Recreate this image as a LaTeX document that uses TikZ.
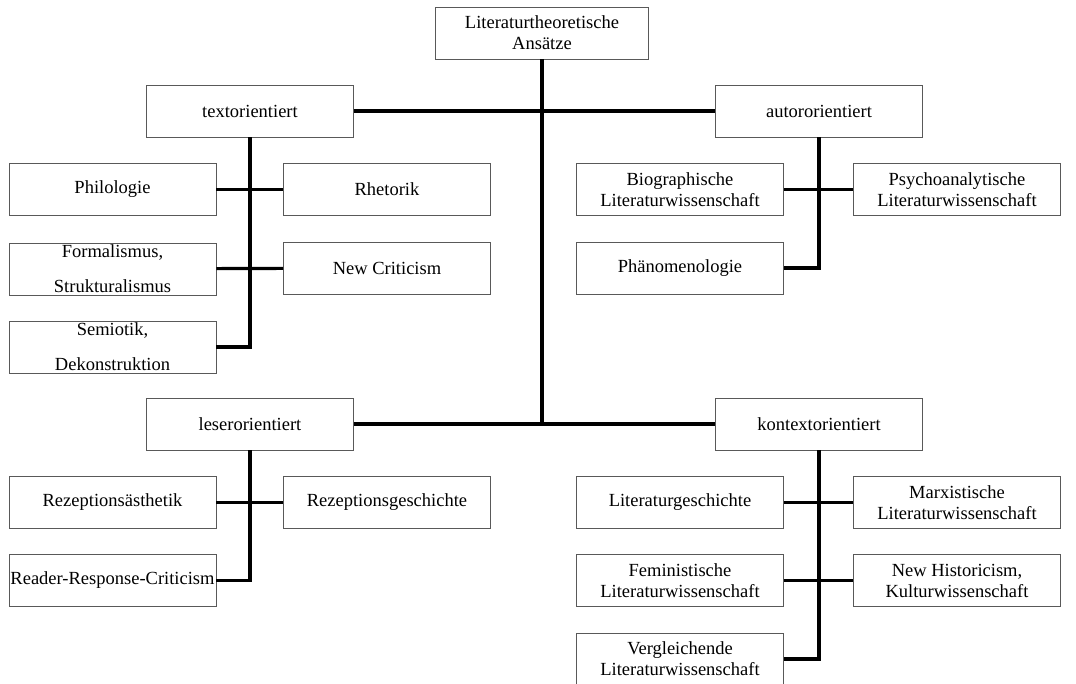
\documentclass[tikz,border=0pt]{standalone}
\usepackage{fontspec}
\setmainfont{Liberation Serif}
\usetikzlibrary{shapes}
\tikzstyle{kasten}=[rectangle,draw=black!65,line width=0.9pt,minimum width=207pt,minimum height=52pt,align=center,inner sep=0pt,font=\fontsize{18.5}{21}\selectfont]
\tikzstyle{weit}=[font=\fontsize{18.5}{35}\selectfont]
\tikzstyle{linie}=[-, line width=3.2pt]

\begin{document}
\begin{tikzpicture}[x=1pt,y=-1pt,linie]
\useasboundingbox (0,0) rectangle (1076,684);
\node[kasten,minimum width=213pt] (R) at (542,33) {Literaturtheoretische\\Ansätze};
\node[kasten] (T) at (250,111) {textorientiert};
\node[kasten] (A) at (819,111) {autororientiert};
\node[kasten] (L) at (250,424) {leserorientiert};
\node[kasten] (K) at (819,424) {kontextorientiert};
% textorientiert
\node[kasten] (Ph) at (112.5,189.5) {Philologie};
\node[kasten] (Rh) at (387,189.5) {Rhetorik};
\node[kasten,weit] (Fo) at (112.5,269) {Formalismus,\\Strukturalismus};
\node[kasten] (NC) at (387,268) {New Criticism};
\node[kasten,weit] (Se) at (112.5,347) {Semiotik,\\Dekonstruktion};
% autororientiert
\node[kasten] (Bi) at (680,189.5) {Biographische\\Literaturwissenschaft};
\node[kasten] (Ps) at (957,189.5) {Psychoanalytische\\Literaturwissenschaft};
\node[kasten] (Pn) at (680,268) {Phänomenologie};
% leserorientiert
\node[kasten] (Ra) at (112.5,502.5) {Rezeptionsästhetik};
\node[kasten] (Rg) at (387,502.5) {Rezeptionsgeschichte};
\node[kasten] (RR) at (112.5,580.5) {Reader-Response-Criticism};
% kontextorientiert
\node[kasten] (Lg) at (680,502.5) {Literaturgeschichte};
\node[kasten] (Mx) at (957,502.5) {Marxistische\\Literaturwissenschaft};
\node[kasten] (Fe) at (680,580.5) {Feministische\\Literaturwissenschaft};
\node[kasten] (NH) at (957,580.5) {New Historicism,\\Kulturwissenschaft};
\node[kasten] (Vg) at (680,659) {Vergleichende\\Literaturwissenschaft};
\draw(R)|-(K);\draw(L)--(K);\draw(T)--(A);
\draw(T)|-(Se);\draw(Ph)--(Rh);\draw(Fo)--(NC);
\draw(A)|-(Pn);\draw(Bi)--(Ps);
\draw(L)|-(RR);\draw(Ra)--(Rg);
\draw(K)|-(Vg);\draw(Lg)--(Mx);\draw(Fe)--(NH);
\end{tikzpicture}
\end{document}
